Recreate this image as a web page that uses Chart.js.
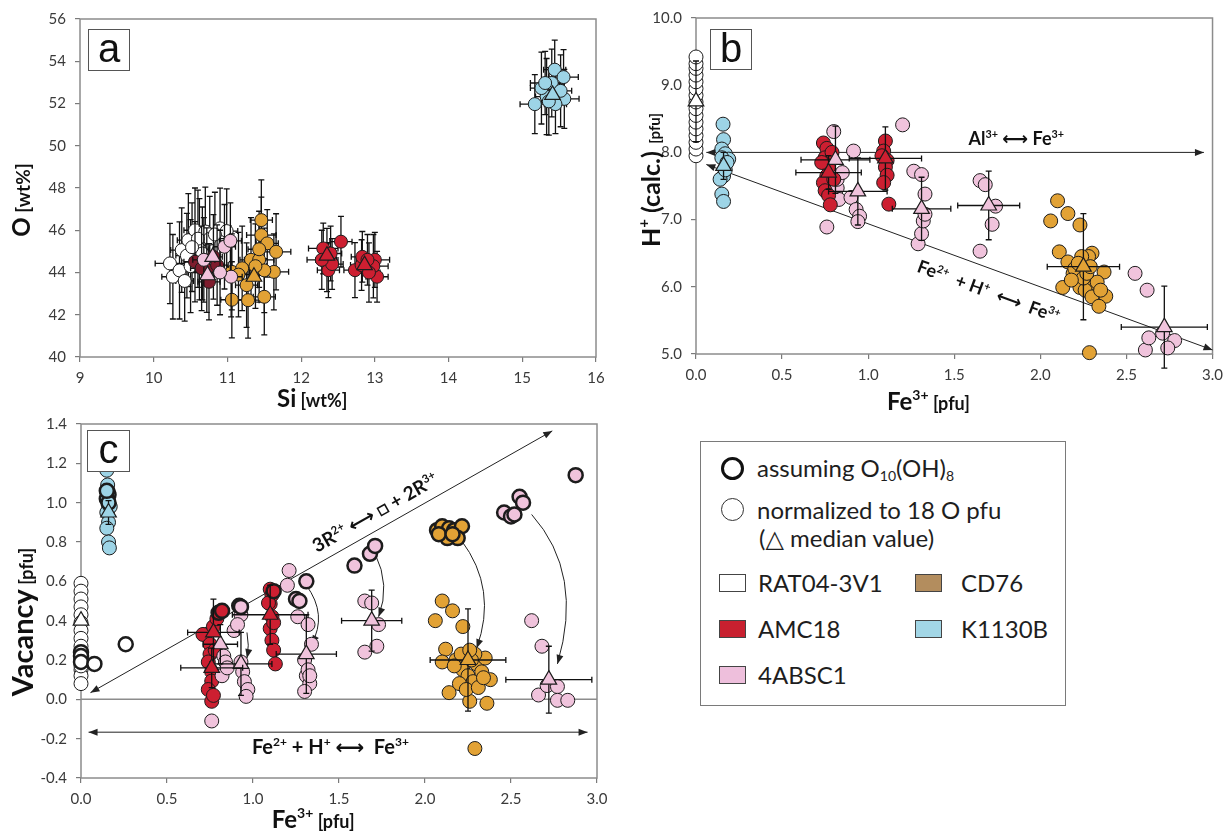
<!DOCTYPE html>
<html>
<head>
<meta charset="utf-8">
<script src="https://cdn.jsdelivr.net/npm/chart.js@4.4.1/dist/chart.umd.min.js"></script>
<style>
  body { margin: 0; background: #fff; width: 1230px; height: 832px; position: relative; overflow: hidden; font-family: Lato, "DejaVu Sans", sans-serif; }
  canvas { position: absolute; }
  .tag { position: absolute; box-sizing: border-box; border: 1.5px solid #555; background: #fff; color: #111;
         font: 40px "Liberation Sans", Arial, sans-serif; text-align: center; line-height: 36px; }
  #legend { position: absolute; left: 700px; top: 441px; width: 366px; height: 265px; box-sizing: border-box; border: 1.5px solid #7a7a7a; background: #fff; }
  #legend div { position: absolute; }
  .circ { width: 23px; height: 23px; border-radius: 50%; box-sizing: border-box; }
  .sq { width: 27px; height: 18px; box-sizing: border-box; border: 1.5px solid #444; }
  .lt { font-size: 24px; color: #1e1e1e; height: 30px; line-height: 30px; white-space: nowrap; }
  .lt sub { font-size: 14px; vertical-align: -4px; line-height: 0; }
</style>
</head>
<body>
<canvas id="chartA" width="615" height="415" style="left:0;top:0"></canvas>
<canvas id="chartB" width="620" height="415" style="left:610px;top:0"></canvas>
<canvas id="chartC" width="615" height="427" style="left:0;top:405px"></canvas>

<div class="tag" style="left:88px;top:29px;width:42px;height:42px">a</div>
<div class="tag" style="left:710px;top:29px;width:42px;height:41px">b</div>
<div class="tag" style="left:87px;top:430px;width:43px;height:42px">c</div>

<div id="legend">
  <div class="circ" style="left:20px;top:15px;border:3.5px solid #111"></div>
  <div class="lt" style="left:56px;top:11px">assuming O<sub>10</sub>(OH)<sub>8</sub></div>
  <div class="circ" style="left:20px;top:56px;border:1.2px solid #333"></div>
  <div class="lt" style="left:56px;top:53px">normalized to 18 O pfu</div>
  <div class="lt" style="left:58px;top:81px">(△ median value)</div>
  <div class="sq" style="left:18px;top:132px;background:#fff"></div>
  <div class="lt" style="left:57px;top:126px">RAT04-3V1</div>
  <div class="sq" style="left:18px;top:178px;background:#c8202f"></div>
  <div class="lt" style="left:57px;top:172px">AMC18</div>
  <div class="sq" style="left:18px;top:224px;background:#eebfdc"></div>
  <div class="lt" style="left:57px;top:218px">4ABSC1</div>
  <div class="sq" style="left:214px;top:132px;background:#b38d5e"></div>
  <div class="lt" style="left:260px;top:126px">CD76</div>
  <div class="sq" style="left:214px;top:178px;background:#a2d6e6"></div>
  <div class="lt" style="left:260px;top:172px">K1130B</div>
</div>

<script>
// ---- tick labels ----
const aXTicks = [9, 10, 11, 12, 13, 14, 15, 16];
const aYTicks = [40, 42, 44, 46, 48, 50, 52, 54, 56];
const bXTicks = [0, 0.5, 1.0, 1.5, 2.0, 2.5, 3.0];
const bYTicks = [5, 6, 7, 8, 9, 10];
const cXTicks = [0, 0.5, 1.0, 1.5, 2.0, 2.5, 3.0];
const cYTicks = [-0.4, -0.2, 0, 0.2, 0.4, 0.6, 0.8, 1.0, 1.2, 1.4];

// ---- panel a: Si [wt%], O [wt%], ±Si, ±O ----
const aRat = [[10.22,44.43,0.2,1.9],[10.26,43.8,0.15,2.0],[10.35,44.1,0.12,2.3],[10.38,45.06,0.15,2.0],[10.47,45.53,0.15,2.2],
  [10.5,44.3,0.18,2.2],[10.56,46.0,0.15,2.0],[10.62,45.1,0.12,2.4],[10.7,45.94,0.15,2.1],[10.76,45.6,0.2,2.0],[10.9,46.09,0.15,1.9],
  [10.99,45.96,0.15,2.0],[10.45,44.8,0.15,2.0],[10.42,43.6,0.12,1.9],[10.6,45.6,0.15,2.3],[10.83,45.8,0.15,2.0],[10.66,44.9,0.15,2.2],[10.52,45.2,0.15,2.1]];
const aAmcLow = [[10.56,44.51,0.15,1.9],[10.81,44.74,0.12,2.0],[10.72,44.11,0.15,2.0],[10.86,44.35,0.15,1.9],[10.75,43.56,0.15,1.8],[10.65,44.2,0.15,2.0]];
const aAmc = [[12.54,45.46,0.15,1.2],[12.30,45.14,0.2,1.2],[12.35,44.59,0.15,1.5],[12.37,44.11,0.15,1.3],[12.42,44.4,0.15,1.2],[12.28,44.6,0.2,1.4],
  [12.4,44.9,0.15,1.3],[12.73,44.11,0.15,1.3],[12.82,44.35,0.15,1.2],[12.83,44.74,0.15,1.2],[13.0,44.6,0.2,1.3],[13.03,43.8,0.15,1.2],
  [12.98,44.3,0.2,1.5],[12.92,44.0,0.15,1.4],[12.9,44.6,0.15,1.2]];
const aPink = [[10.96,45.22,0.15,2.0],[11.04,45.5,0.15,1.8],[10.68,44.6,0.15,2.0],[11.05,43.8,0.15,1.9],[10.9,44.0,0.15,2.0]];
const aCd = [[11.46,46.48,0.15,1.9],[11.46,45.77,0.2,1.8],[11.54,45.38,0.15,1.6],[11.66,44.98,0.2,1.8],[11.63,44.03,0.2,1.8],[11.06,44.03,0.2,1.8],
  [11.06,42.71,0.15,1.8],[11.28,42.69,0.15,1.8],[11.5,42.85,0.15,1.8],[11.26,43.4,0.15,2.0],[11.32,44.6,0.15,2.0],[11.43,44.6,0.2,2.0],
  [11.2,44.2,0.2,2.0],[11.5,44.1,0.2,2.0],[11.43,45.1,0.15,1.8],[11.38,44.3,0.15,2.0],[11.15,43.9,0.15,2.0]];
const aK = [[15.17,51.97,0.2,1.4],[15.33,52.33,0.15,1.8],[15.40,52.97,0.15,1.6],[15.44,53.6,0.15,1.4],[15.56,53.25,0.2,1.3],[15.57,52.22,0.2,1.4],
  [15.45,51.97,0.15,1.4],[15.26,52.73,0.15,1.7],[15.31,52.97,0.2,1.5],[15.52,52.6,0.15,1.7],[15.36,52.1,0.15,1.6]];
const aPinkMed = [[10.8,44.74],[10.73,43.87]];
const aAmcMed = [[12.35,44.8],[12.86,44.35]];
const aCdMed = [[11.36,43.8]];
const aKMed = [[15.41,52.41]];

// ---- panel b: Fe3+ [pfu], H+ [pfu] (medians: ±Fe3+, ±H+) ----
const bRat = [[0,7.95],[0,8.05],[0,8.15],[0,8.25],[0,8.35],[0,8.45],[0,8.55],[0,8.65],[0,8.75],[0,8.85],[0,8.95],[0,9.05],[0,9.15],[0,9.25],[0,9.32],[0,9.42]];
const bK = [[0.157,8.42],[0.16,8.19],[0.15,8.05],[0.17,7.98],[0.19,7.9],[0.15,7.92],[0.16,7.65],[0.14,7.6],[0.15,7.38],[0.16,7.27],[0.17,7.74],[0.18,7.85]];
const bAmc = [[0.74,8.14],[0.76,8.06],[0.75,7.92],[0.77,7.78],[0.76,7.65],[0.74,7.55],[0.75,7.43],[0.77,7.36],[0.78,7.22],[0.79,8.0],[0.8,7.6],[0.73,7.85],
  [1.10,8.17],[1.09,8.02],[1.11,7.88],[1.10,7.78],[1.11,7.66],[1.09,7.55],[1.12,7.23],[1.08,7.95]];
const bPink = [[0.80,8.31],[1.20,8.41],[0.915,8.02],[0.76,6.89],[0.82,7.47],[0.82,7.6],[0.83,7.3],[0.90,7.33],[0.93,7.15],[0.95,7.05],[0.94,6.97],
  [1.265,7.72],[1.31,7.67],[1.33,7.38],[1.29,6.64],[1.31,6.79],[1.32,6.98],[1.33,7.08],[1.65,7.58],[1.68,7.52],[1.65,6.53],[1.74,7.2],[1.72,6.93],
  [2.55,6.2],[2.62,5.95],[2.61,5.06],[2.63,5.24],[2.71,5.31],[2.78,5.2],[2.74,5.09],[0.85,7.7]];
const bCd = [[2.10,7.28],[2.16,7.09],[2.06,6.98],[2.23,6.92],[2.11,6.52],[2.16,6.37],[2.13,5.99],[2.23,5.99],[2.30,6.5],[2.28,6.45],[2.37,6.22],
  [2.19,6.2],[2.20,6.27],[2.31,6.05],[2.26,5.95],[2.38,5.86],[2.30,5.85],[2.34,5.71],[2.25,6.13],[2.33,6.07],[2.24,6.45],[2.285,5.02],
  [2.22,6.35],[2.27,6.2],[2.35,5.95],[2.29,6.3],[2.18,6.1]];
const bRatMed = [[0,8.76,0,0.6]];
const bKMed = [[0.16,7.8,0,0.2]];
const bAmcMed = [[0.77,7.70,0.19,0.25],[1.10,7.91,0.21,0.47]];
const bPinkMed = [[0.81,7.89,0.2,0.5],[0.94,7.42,0.17,0.5],[1.31,7.16,0.17,0.47],[1.70,7.21,0.18,0.51],[2.72,5.40,0.25,0.61]];
const bCdMed = [[2.25,6.30,0.21,0.79]];

// ---- panel c: Fe3+ [pfu], vacancy [pfu] ----
const cRat = [[0,0.59],[0,0.55],[0,0.51],[0,0.47],[0,0.43],[0,0.39],[0,0.35],[0,0.31],[0,0.27],[0,0.20],[0,0.15],[0,0.12],[0,0.08],[0,0.17]];
const cRatO10 = [[0,0.24],[0,0.22],[0,0.19],[0.078,0.18],[0.26,0.28]];
const cK = [[0.15,1.165],[0.155,1.09],[0.16,0.97],[0.15,0.95],[0.16,0.90],[0.15,0.87],[0.16,0.80],[0.165,0.77],[0.17,0.98]];
const cKO10 = [[0.155,1.054],[0.16,1.04],[0.15,1.02],[0.16,1.0],[0.15,1.06]];
const cAmc = [[0.709,0.33],[0.77,0.37],[0.75,0.28],[0.75,0.23],[0.74,0.19],[0.76,0.14],[0.76,0.093],[0.74,0.05],[0.76,-0.01],[0.79,0.41],
  [0.78,0.25],[0.77,0.02],[1.10,0.485],[1.11,0.42],[1.10,0.36],[1.11,0.30],[1.12,0.25],[1.13,0.18],[1.10,0.56],[1.11,0.53],[1.09,0.49],[1.12,0.39]];
const cAmcO10 = [[0.80,0.44],[0.82,0.45],[1.12,0.55]];
const cPink = [[0.76,-0.11],[0.83,0.22],[0.84,0.19],[0.82,0.12],[0.85,0.16],[0.93,0.43],[0.89,0.35],[0.91,0.38],[0.93,0.19],[0.94,0.14],[0.95,0.09],
  [0.97,0.05],[0.96,0.015],[1.21,0.655],[1.20,0.58],[1.26,0.42],[1.32,0.38],[1.34,0.28],[1.30,0.20],[1.31,0.12],[1.33,0.08],[1.30,0.04],[1.32,0.15],
  [1.65,0.50],[1.69,0.49],[1.73,0.38],[1.65,0.24],[1.72,0.27],[2.62,0.40],[2.68,0.27],[2.66,0.022],[2.71,0.07],[2.77,0.065],[2.77,-0.005],[2.83,-0.005],[1.33,0.12]];
const cPinkO10 = [[0.92,0.476],[0.93,0.47],[1.25,0.51],[1.27,0.50],[1.31,0.60],[1.59,0.68],[1.68,0.74],[1.71,0.78],[2.46,0.95],[2.50,0.93],[2.52,0.94],
  [2.55,1.03],[2.57,1.0],[2.876,1.14]];
const cCd = [[2.10,0.50],[2.16,0.45],[2.06,0.40],[2.22,0.37],[2.12,0.255],[2.10,0.19],[2.14,0.034],[2.26,-0.01],[2.36,-0.02],[2.18,0.20],[2.22,0.15],
  [2.25,0.12],[2.28,0.09],[2.30,0.18],[2.33,0.14],[2.35,0.21],[2.38,0.10],[2.2,0.08],[2.24,0.05],[2.29,0.23],[2.31,0.06],[2.27,0.2],[2.17,0.17],
  [2.34,0.11],[2.29,-0.25],[2.21,0.23],[2.26,0.25]];
const cCdO10 = [[2.07,0.86],[2.10,0.88],[2.14,0.87],[2.17,0.86],[2.215,0.88],[2.19,0.82],[2.13,0.82],[2.08,0.84],[2.16,0.84]];
const cRatMed = [[0,0.40]];
const cKMed = [[0.16,0.95,0,0.06]];
const cAmcMed = [[0.77,0.34,0.15,0.17],[0.76,0.16,0.18,0.1],[1.10,0.43,0.22,0.15]];
const cPinkMed = [[0.81,0.28,0.1,0.1],[0.93,0.18,0.18,0.16],[1.31,0.23,0.175,0.2],[1.69,0.40,0.175,0.155],[2.72,0.10,0.25,0.17]];
const cCdMed = [[2.25,0.20,0.22,0.26]];

// substitution arrows [x1, y1, x2, y2] and curved arrows [x1, y1, ctrlX, ctrlY, x2, y2]
const bArrows = [[0.06,8.0,2.95,8.0],[0.06,7.82,3.0,5.06]];
const cArrows = [[0.055,0.034,2.74,1.365],[0.044,-0.167,2.945,-0.167]];
const cCurves = [[1.31,0.58,1.435,0.43,1.34,0.28],[1.71,0.74,1.80,0.58,1.73,0.42],[2.21,0.81,2.425,0.56,2.30,0.26],
  [2.62,0.94,2.925,0.64,2.77,0.18],[0.965,0.34,0.98,0.275,0.965,0.21]];

const WHITE = '#ffffff', RED = '#cd1f31', DARKRED = '#7e1c2d', PINK = '#f0c3dc', GOLD = '#e2a235', BLUE = '#9dd4e6';
const FONT = 'Lato, "DejaVu Sans", sans-serif';

function pts(arr) {
  return arr.map(p => ({x: p[0], y: p[1], ex: p[2] || 0, ey: p[3] || 0}));
}
function circles(arr, color, r, bw) {
  return {data: pts(arr), backgroundColor: color, borderColor: '#1c1c1c', borderWidth: bw || 1,
          pointRadius: r, pointHoverRadius: r, clip: false};
}
function medians(arr, color, withErr) {
  return {data: pts(arr), backgroundColor: color, borderColor: '#1c1c1c', borderWidth: 1.2, pointStyle: 'triangle',
          pointRadius: 9, pointHoverRadius: 9, clip: false, errors: withErr};
}

// text pieces: {t, size, up}
function supText(str, size) {
  return str.split(/\^\{([^}]*)\}/).map((t, i) => i % 2 ? {t, size: size * 0.6, up: size * 0.38} : {t, size});
}
function drawPieces(ctx, pieces, x, y, ang) {
  ctx.save();
  ctx.translate(x, y);
  ctx.rotate(ang || 0);
  ctx.fillStyle = '#111';
  ctx.textBaseline = 'alphabetic';
  let w = 0, big = 0;
  pieces.forEach(p => { ctx.font = `bold ${p.size}px ${FONT}`; p.w = ctx.measureText(p.t).width; w += p.w; if (!p.up) big = Math.max(big, p.size); });
  let cx = -w / 2;
  pieces.forEach(p => { ctx.font = `bold ${p.size}px ${FONT}`; ctx.fillText(p.t, cx, big * 0.35 - (p.up || 0)); cx += p.w; });
  ctx.restore();
}
function head(ctx, x, y, ang) {
  const len = 9, w = 3.5, c = Math.cos(ang), s = Math.sin(ang);
  ctx.beginPath();
  ctx.moveTo(x, y);
  ctx.lineTo(x - len * c + w * s, y - len * s - w * c);
  ctx.lineTo(x - len * c - w * s, y - len * s + w * c);
  ctx.closePath();
  ctx.fill();
}

const deco = {
  id: 'deco',
  beforeDatasetsDraw(chart, args, o) {
    const {ctx, chartArea: A, scales: {x, y}} = chart;
    ctx.save();
    ctx.strokeStyle = '#8c8c8c';
    ctx.lineWidth = 1.5;
    ctx.strokeRect(A.left, A.top, A.right - A.left, A.bottom - A.top);
    (o.hlines || []).forEach(v => {
      const py = y.getPixelForValue(v);
      ctx.beginPath(); ctx.moveTo(A.left, py); ctx.lineTo(A.right, py); ctx.stroke();
    });
    ctx.strokeStyle = '#222';
    ctx.fillStyle = '#222';
    ctx.lineWidth = 1;
    (o.arrows || []).forEach(a => {
      const x1 = x.getPixelForValue(a[0]), y1 = y.getPixelForValue(a[1]);
      const x2 = x.getPixelForValue(a[2]), y2 = y.getPixelForValue(a[3]);
      const ang = Math.atan2(y2 - y1, x2 - x1);
      ctx.beginPath(); ctx.moveTo(x1, y1); ctx.lineTo(x2, y2); ctx.stroke();
      head(ctx, x2, y2, ang);
      head(ctx, x1, y1, ang + Math.PI);
    });
    (o.curves || []).forEach(c => {
      const x1 = x.getPixelForValue(c[0]), y1 = y.getPixelForValue(c[1]);
      const qx = x.getPixelForValue(c[2]), qy = y.getPixelForValue(c[3]);
      const x2 = x.getPixelForValue(c[4]), y2 = y.getPixelForValue(c[5]);
      ctx.beginPath(); ctx.moveTo(x1, y1); ctx.quadraticCurveTo(qx, qy, x2, y2); ctx.stroke();
      head(ctx, x2, y2, Math.atan2(y2 - qy, x2 - qx));
    });
    ctx.restore();
  },
  beforeDatasetDraw(chart, args) {
    const ds = chart.data.datasets[args.index];
    if (ds.errors === false) return;
    const {ctx, scales: {x, y}} = chart;
    ctx.save();
    ctx.strokeStyle = '#111';
    ctx.lineWidth = 1.3;
    const cap = 3;
    ds.data.forEach(p => {
      const px = x.getPixelForValue(p.x), py = y.getPixelForValue(p.y);
      ctx.beginPath();
      if (p.ex) {
        const x1 = x.getPixelForValue(p.x - p.ex), x2 = x.getPixelForValue(p.x + p.ex);
        ctx.moveTo(x1, py); ctx.lineTo(x2, py);
        ctx.moveTo(x1, py - cap); ctx.lineTo(x1, py + cap);
        ctx.moveTo(x2, py - cap); ctx.lineTo(x2, py + cap);
      }
      if (p.ey) {
        const y1 = y.getPixelForValue(p.y - p.ey), y2 = y.getPixelForValue(p.y + p.ey);
        ctx.moveTo(px, y1); ctx.lineTo(px, y2);
        ctx.moveTo(px - cap, y1); ctx.lineTo(px + cap, y1);
        ctx.moveTo(px - cap, y2); ctx.lineTo(px + cap, y2);
      }
      ctx.stroke();
    });
    ctx.restore();
  },
  afterDatasetsDraw(chart, args, o) {
    const {ctx, chartArea: A, scales: {x, y}} = chart;
    (o.labels || []).forEach(l => {
      let ang = 0;
      if (l.along != null) {
        const a = o.arrows[l.along];
        ang = Math.atan2(y.getPixelForValue(a[3]) - y.getPixelForValue(a[1]), x.getPixelForValue(a[2]) - x.getPixelForValue(a[0]));
      }
      drawPieces(ctx, supText(l.text, l.size), x.getPixelForValue(l.x), y.getPixelForValue(l.y), ang);
    });
    if (o.xTitle) drawPieces(ctx, o.xTitle, A.left + 0.45 * (A.right - A.left), A.bottom + o.xTitleDy);
    if (o.yTitle) drawPieces(ctx, o.yTitle, A.left - o.yTitleDx, (A.top + A.bottom) / 2 + o.yTitleDy, -Math.PI / 2);
  }
};

function axis(tickList, digits, isY, size) {
  return {
    type: 'linear',
    min: tickList[0],
    max: tickList[tickList.length - 1],
    afterBuildTicks: s => { s.ticks = tickList.map(v => ({value: v})); },
    afterFit: s => { if (isY) s.width = size; else s.height = size; },
    grid: {drawOnChartArea: false, drawTicks: true, tickLength: 5, color: '#7a7a7a', lineWidth: 1.2},
    border: {display: false},
    ticks: {font: {family: FONT, size: 15}, color: '#3a3a3a', padding: isY ? 9 : 7,
            callback: v => Number(v).toFixed(digits)}
  };
}

function makeChart(id, datasets, xAxis, yAxis, pad, decoOpts) {
  return new Chart(document.getElementById(id), {
    type: 'scatter',
    data: {datasets},
    options: {
      responsive: false,
      animation: false,
      events: [],
      layout: {padding: {top: pad.top, right: pad.right, left: 0, bottom: 0}},
      plugins: {legend: {display: false}, tooltip: {enabled: false}, deco: decoOpts},
      scales: {x: xAxis, y: yAxis}
    },
    plugins: [deco]
  });
}

// panel a
makeChart('chartA', [
  medians(aPinkMed, PINK, false), medians(aAmcMed, RED, false), medians(aCdMed, GOLD, false), medians(aKMed, BLUE, false),
  circles(aPink, PINK, 6.5), circles(aAmcLow, DARKRED, 6.5), circles(aCd, GOLD, 6.5), circles(aRat, WHITE, 6.5),
  circles(aAmc, RED, 6.5), circles(aK, BLUE, 6.5)
], axis(aXTicks, 0, false, 58), axis(aYTicks, 0, true, 80), {top: 19, right: 19}, {
  xTitle: [{t: 'Si', size: 24}, {t: ' [wt%]', size: 18}], xTitleDy: 42,
  yTitle: [{t: 'O', size: 24}, {t: ' [wt%]', size: 19}], yTitleDx: 58, yTitleDy: 12
});

// panel b
makeChart('chartB', [
  medians(bRatMed, WHITE), medians(bKMed, BLUE), medians(bAmcMed, RED), medians(bPinkMed, PINK), medians(bCdMed, GOLD),
  circles(bRat, WHITE, 7), circles(bAmc, RED, 7), circles(bPink, PINK, 7), circles(bCd, GOLD, 7), circles(bK, BLUE, 7)
], axis(bXTicks, 1, false, 61), axis(bYTicks, 1, true, 86), {top: 16, right: 16}, {
  arrows: bArrows,
  labels: [
    {text: 'Al^{3+} \u27f7 Fe^{3+}', size: 18, x: 1.86, y: 8.2},
    {text: 'Fe^{2+}  + H^{+}  \u27f7  Fe^{3+}', size: 18, x: 1.70, y: 5.93, along: 1}
  ],
  xTitle: [{t: 'Fe', size: 24}, {t: '3+', size: 14, up: 10}, {t: ' [pfu]', size: 18}], xTitleDy: 48,
  yTitle: [{t: 'H', size: 25}, {t: '+', size: 15, up: 11}, {t: ' (calc.)', size: 25}, {t: '  [pfu]', size: 15}], yTitleDx: 45, yTitleDy: -6
});

// panel c
makeChart('chartC', [
  medians(cRatMed, WHITE), medians(cKMed, BLUE), medians(cAmcMed, RED), medians(cPinkMed, PINK), medians(cCdMed, GOLD),
  circles(cRatO10, WHITE, 7, 2.5), circles(cKO10, BLUE, 7, 2.5), circles(cAmcO10, RED, 7, 2.5), circles(cPinkO10, PINK, 7, 2.5), circles(cCdO10, GOLD, 7, 2.5),
  circles(cRat, WHITE, 7), circles(cPink, PINK, 7), circles(cAmc, RED, 7), circles(cCd, GOLD, 7), circles(cK, BLUE, 7)
], axis(cXTicks, 1, false, 54), axis(cYTicks, 1, true, 81), {top: 19, right: 18}, {
  hlines: [0],
  arrows: cArrows,
  curves: cCurves,
  labels: [
    {text: '3R^{2+} \u27f7 \u25a1 + 2R^{3+}', size: 19, x: 1.71, y: 0.95, along: 0},
    {text: 'Fe^{2+} + H^{+} \u27f7  Fe^{3+}', size: 20, x: 1.45, y: -0.24}
  ],
  xTitle: [{t: 'Fe', size: 24}, {t: '3+', size: 14, up: 10}, {t: ' [pfu]', size: 18}], xTitleDy: 42,
  yTitle: [{t: 'Vacancy', size: 29}, {t: ' [pfu]', size: 18}], yTitleDx: 58, yTitleDy: 21
});
</script>
</body>
</html>
